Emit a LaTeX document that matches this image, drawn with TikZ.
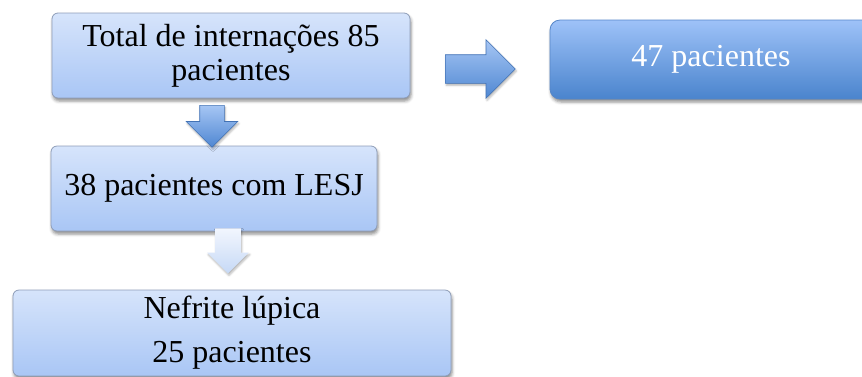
\documentclass[tikz,border=0pt]{standalone}
\usepackage{fontspec}
\setmainfont{Liberation Serif}
\usetikzlibrary{shapes.arrows}
\usetikzlibrary{shadows.blur}

\definecolor{boxtop}{HTML}{D6E4FB}
\definecolor{boxbot}{HTML}{A9C6F5}
\definecolor{boxline}{HTML}{8E9DB8}
\definecolor{darktop}{HTML}{9EC2F8}
\definecolor{darkbot}{HTML}{4A84CD}
\definecolor{darkline}{HTML}{5686C8}
\definecolor{arrtop}{HTML}{A6C6F4}
\definecolor{arrbot}{HTML}{4F87D2}
\definecolor{arrline}{HTML}{4272B5}
\definecolor{pale}{HTML}{F2F6FE}
\definecolor{palebot}{HTML}{C6D9F6}

\begin{document}
\begin{tikzpicture}[x=1pt, y=-1pt, font=\fontsize{32}{34}\selectfont,
  box/.style={draw=boxline, line width=0.8pt, rounded corners=6pt, top color=boxtop, bottom color=boxbot, align=center, inner sep=0pt,
    blur shadow={shadow xshift=1pt, shadow yshift=-3pt, shadow blur radius=3pt, shadow opacity=45}},
  darkbox/.style={box, draw=darkline, rounded corners=10pt, top color=darktop, bottom color=darkbot, text=white},
  blockarrow/.style={single arrow, draw=arrline, line width=0.6pt, top color=arrtop, bottom color=arrbot, anchor=tail,
    blur shadow={shadow xshift=1pt, shadow yshift=-2pt, shadow blur radius=2pt, shadow opacity=30}}]
\useasboundingbox (0,0) rectangle (862,376);
% caixas
\node[box, minimum width=358pt, minimum height=85pt] (total) at (231,55.5) {Total de internações 85\\ pacientes};
\node[darkbox, minimum width=322pt, minimum height=79pt] (outros) at (711,59.5) {47 pacientes};
\node[box, minimum width=326pt, minimum height=85pt] (lesj) at (214,188.5) {38 pacientes com LESJ};
\node[box, minimum width=438pt, minimum height=86pt] (nefrite) at (232,333) {Nefrite lúpica\\[10pt] 25 pacientes};
% setas
\node[blockarrow, minimum height=70pt, inner xsep=0pt, inner ysep=14pt, single arrow head extend=15pt] (seta1) at (445,69) {};
\node[blockarrow, shape border rotate=270, minimum height=42pt, inner ysep=0pt, inner xsep=12pt, single arrow head extend=13.5pt] (seta2) at (212,105) {};
\node[blockarrow, shape border rotate=270, draw=none, top color=pale, bottom color=palebot, minimum height=45pt, inner ysep=0pt, inner xsep=12.5pt, single arrow head extend=8pt] (seta3) at (228,228) {};
\end{tikzpicture}
\end{document}
